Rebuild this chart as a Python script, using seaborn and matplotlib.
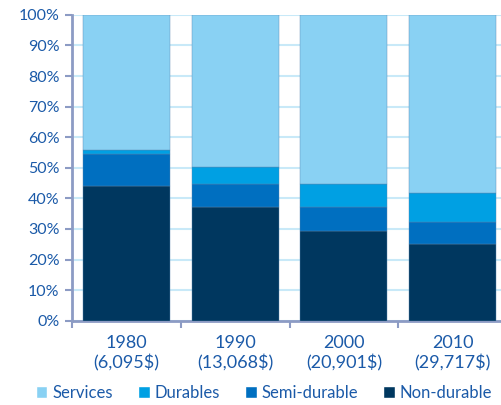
import matplotlib
matplotlib.use("Agg")
import matplotlib.pyplot as plt
import seaborn as sns
import numpy as np
import pandas as pd
from matplotlib.patches import Patch
from matplotlib.ticker import FixedLocator

categories = ["1980\n(6,095$)", "1990\n(13,068$)", "2000\n(20,901$)", "2010\n(29,717$)"]
non_durable = [44.1, 37.3, 29.4, 25.0]
semi_durable = [10.3, 7.5, 7.8, 7.2]
durables = [1.4, 5.5, 7.5, 9.5]
services = [100 - a - b - c for a, b, c in zip(non_durable, semi_durable, durables)]
y_ticks = [0, 10, 20, 30, 40, 50, 60, 70, 80, 90, 100]
y_tick_labels = [f"{v}%" for v in y_ticks]

series_names = ["Non-durable", "Semi-durable", "Durables", "Services"]
series_vals = [non_durable, semi_durable, durables, services]
colors = {"Services": "#89d1f3", "Durables": "#00a0e3",
          "Semi-durable": "#006fc0", "Non-durable": "#00375f"}

sns.set_theme(style="white")
plt.rcParams["font.family"] = ["Lato", "DejaVu Sans"]

text_color = "#1b5aa8"
spine_color = "#8c9bc4"
grid_color = "#c8e9f8"

fig = plt.figure(figsize=(5.01, 4.05), dpi=100)
ax = fig.add_axes([72 / 501, 84.3 / 405, 435 / 501, 305.8 / 405])

bottom = np.zeros(len(categories))
for name, vals in zip(series_names, series_vals):
    df = pd.DataFrame({"cat": categories, "val": vals})
    sns.barplot(data=df, x="cat", y="val", order=categories, color=colors[name],
                bottom=bottom, width=0.8, ax=ax, saturation=1, zorder=3,
                edgecolor="#5a86b0", linewidth=0.3)
    bottom = bottom + np.array(vals)

ax.set_xlim(-0.5, 3.5)
ax.set_ylim(0, 100)
ax.set_yticks(y_ticks)
ax.set_yticklabels(y_tick_labels)
ax.set_xlabel("")
ax.set_ylabel("")

ax.yaxis.grid(True, color=grid_color, linewidth=1.5, zorder=0)
ax.set_axisbelow(True)

for s in ["top", "right"]:
    ax.spines[s].set_visible(False)
for s in ["left", "bottom"]:
    ax.spines[s].set_color(spine_color)
    ax.spines[s].set_linewidth(2)

ax.tick_params(axis="y", which="major", left=True, length=5, width=1.5,
               color=spine_color, labelcolor=text_color, labelsize=11.5, pad=4)
ax.tick_params(axis="x", which="major", bottom=False, labelcolor=text_color,
               labelsize=13, pad=4)
ax.xaxis.set_minor_locator(FixedLocator([-0.5, 0.5, 1.5, 2.5]))
ax.tick_params(axis="x", which="minor", bottom=True, length=5, width=1.5,
               color=spine_color)
for lbl in ax.get_xticklabels():
    lbl.set_linespacing(1.3)

handles = [Patch(facecolor=colors[n], label=n) for n in ["Services", "Durables", "Semi-durable", "Non-durable"]]
leg = fig.legend(handles=handles, loc="center", bbox_to_anchor=(0.527, 12.5 / 405),
                 ncol=4, frameon=False, fontsize=12, handlelength=0.7, handleheight=0.7,
                 handletextpad=0.3, columnspacing=1.5, labelcolor=text_color)

fig.savefig("out.png", dpi=100)
